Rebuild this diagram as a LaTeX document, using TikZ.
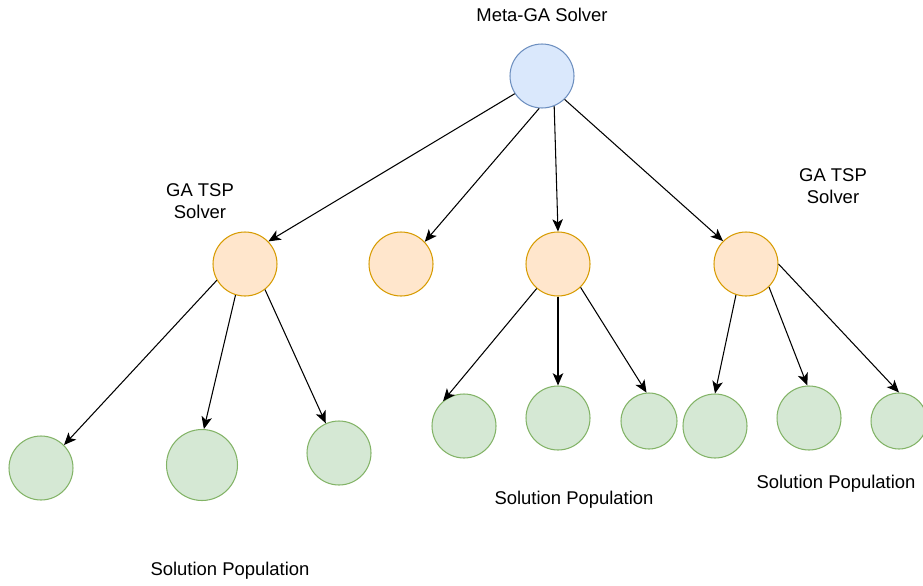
\documentclass[tikz,border=0pt]{standalone}
\usepackage{fontspec}
\setmainfont{Liberation Sans}
\usetikzlibrary{arrows.meta}

\definecolor{metafill}{HTML}{DAE8FC}
\definecolor{metaline}{HTML}{6C8EBF}
\definecolor{gafill}{HTML}{FFE6CC}
\definecolor{galine}{HTML}{D79B00}
\definecolor{popfill}{HTML}{D5E8D4}
\definecolor{popline}{HTML}{82B366}

\begin{document}
\begin{tikzpicture}[x=0.02cm, y=-0.02cm,
        font=\fontsize{10.5}{12.5}\selectfont,
        meta/.style={circle, draw=metaline, fill=metafill, line width=0.6pt, minimum size=1.28cm},
        ga/.style={circle, draw=galine, fill=gafill, line width=0.6pt, minimum size=1.28cm},
        pop/.style={circle, draw=popline, fill=popfill, line width=0.6pt, minimum size=1.28cm},
        link/.style={-{Stealth[length=7pt,width=6pt,inset=1.8pt]}, line width=0.6pt}]
        \useasboundingbox (0,0) rectangle (923,585);

        % solvers
        \node [meta] (meta) at (542,76) {};
        \node [ga] (ga1) at (245,264) {};
        \node [ga] (ga2) at (401,264) {};
        \node [ga] (ga3) at (558,264) {};
        \node [ga] (ga4) at (746,264) {};

        % populations
        \node [pop] (p1) at (41,468) {};
        \node [pop, minimum size=1.42cm] (p2) at (202,465) {};
        \node [pop] (p3) at (339,453) {};
        \node [pop] (p4) at (464,426) {};
        \node [pop] (p5) at (558,418) {};
        \node [pop, minimum size=1.12cm] (p6) at (649,421) {};
        \node [pop] (p7) at (715,426) {};
        \node [pop] (p8) at (809,418) {};
        \node [pop, minimum size=1.12cm] (p9) at (899,421) {};

        % labels
        \node (metalabel) at (542,15) {Meta-GA Solver};
        \node [align=center] (galabel1) at (200,201) {GA TSP\\Solver};
        \node [align=center] (galabel2) at (833,186) {GA TSP\\Solver};
        \node (poplabel1) at (230,571) {Solution Population};
        \node (poplabel2) at (574,500) {Solution Population};
        \node (poplabel3) at (836,484) {Solution Population};

        \draw [link] (meta.213) -- (ga1.44);
        \draw [link] (meta.265) -- (ga2.43);
        \draw [link] (meta.292) -- (ga3.90);
        \draw [link] (meta.314) -- (ga4.135);

        \draw [link] (ga1.210) -- (p1.45);
        \draw [link] (ga1.253) -- (p2.87);
        \draw [link] (ga1.308) -- (p3.114);

        \draw [link] (ga3.229) -- (p4.130);
        \draw [link] (ga3.270) -- (p5.90);
        \draw [link] (ga3.314) -- (p6.95);

        \draw [link] (ga4.252) -- (p7.90);
        \draw [link] (ga4.315) -- (p8.93);
        \draw [link] (ga4.0) -- (p9.90);
\end{tikzpicture}
\end{document}
